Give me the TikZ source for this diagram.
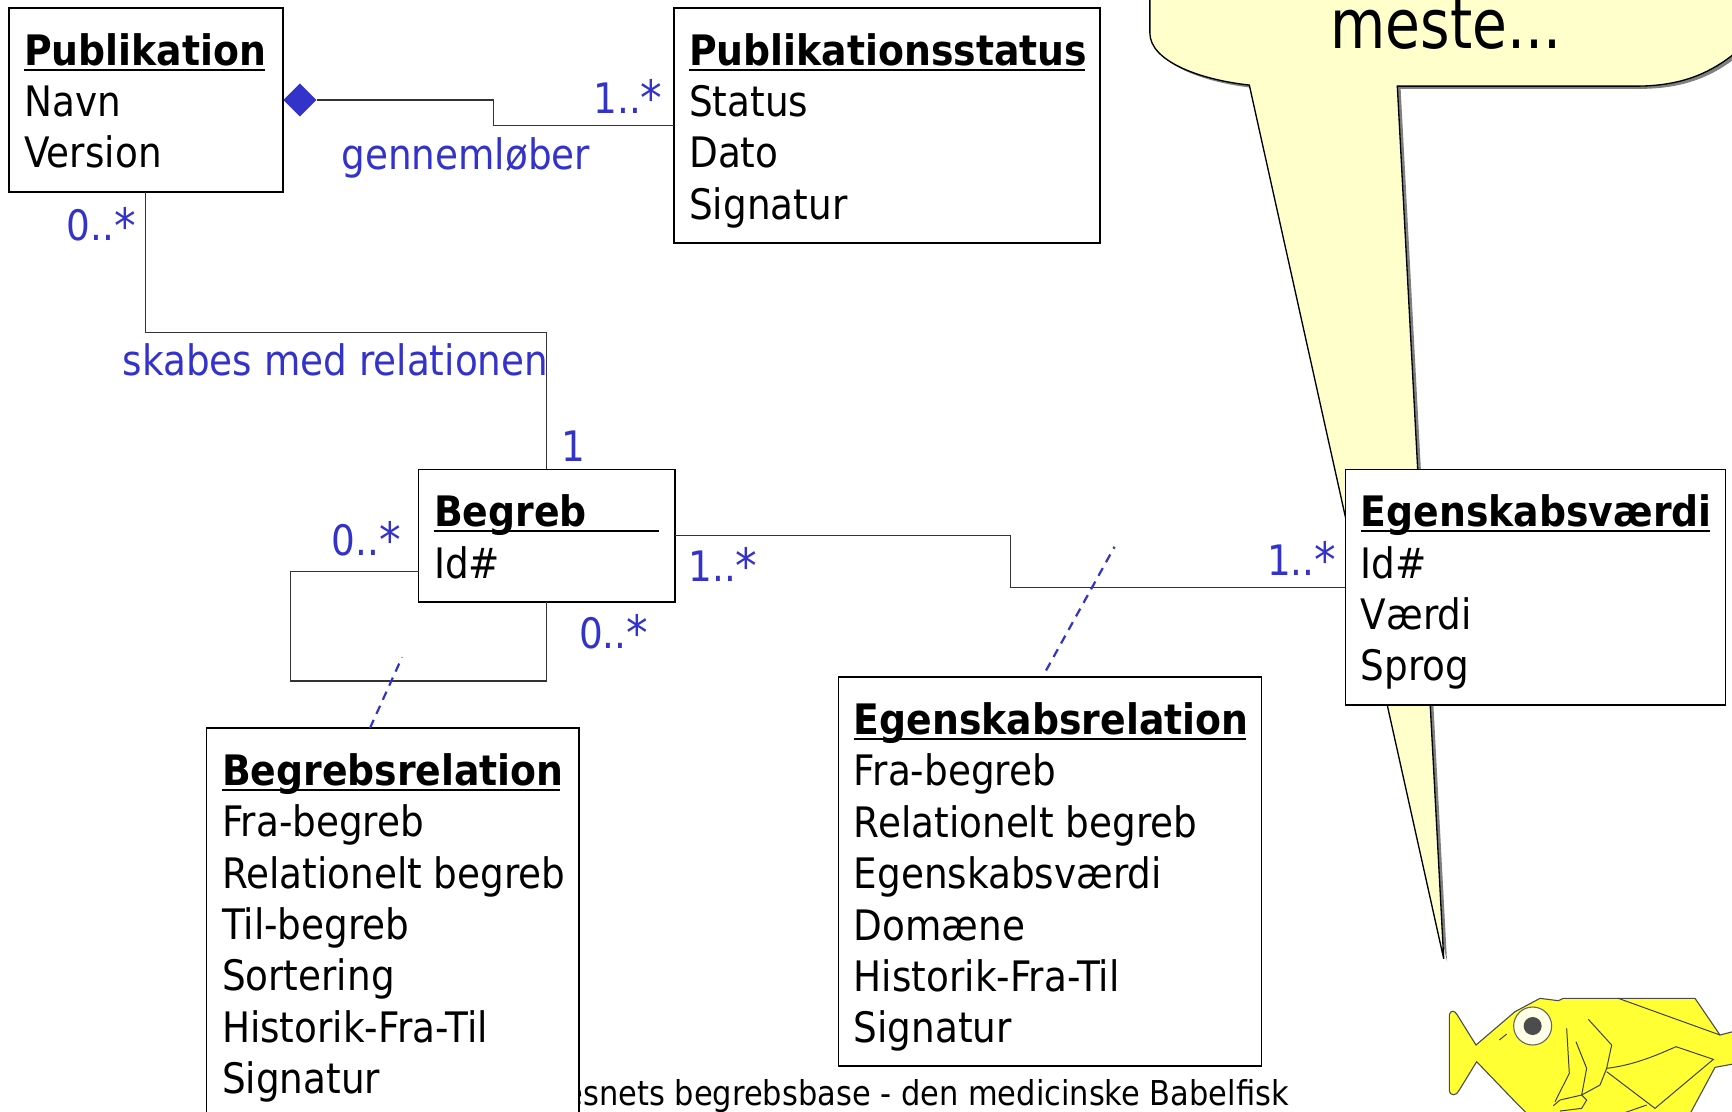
\documentclass[tikz,border=0pt]{standalone}
\usepackage{fontspec}
\setmainfont{DejaVu Sans}[FakeStretch=0.89,BoldFeatures={FakeStretch=0.9}]
\usetikzlibrary{shapes.geometric}
\definecolor{umlblue}{HTML}{3333CC}
\definecolor{noteyellow}{HTML}{FFFFCC}
\definecolor{fishyellow}{HTML}{FFFF33}
\tikzset{
  umlbox/.style={draw=black,line width=1.5pt,fill=white,inner sep=0pt,outer sep=0pt,rectangle},
  assoc/.style={draw=black!80,line width=1pt},
  link/.style={draw=umlblue,line width=2pt,dash pattern=on 8pt off 6pt},
  role/.style={text=umlblue,anchor=base west,inner sep=0pt,font=\fontsize{38}{46.4}\selectfont},
  fishline/.style={draw=black!75,line width=0.9pt}
}
% box body: width, height, title rule width, title, attribute lines
\newcommand\umlbody[5]{%
  \parbox[c][#2pt][t]{#1pt}{\fontsize{38}{46.5}\selectfont\setlength{\parindent}{0pt}%
  \hspace*{14pt}\rule{0pt}{52pt}\rlap{\rule[-5pt]{#3pt}{1.8pt}}\textbf{#4}#5}}
\newcommand\attr[1]{\par\hspace*{14pt}#1}
% multiplicity star, a little larger than the font's own
\newcommand\mstar{\raisebox{-2pt}{\fontsize{44}{46}\selectfont *}}
\begin{document}
\begin{tikzpicture}[x=1pt,y=-1pt]
\clip (0,0) rectangle (1568,1006);
\useasboundingbox (0,0) rectangle (1568,1006);

% speech bubble with its shadow
\def\bubble{(1041,-20) -- (1041,30) .. controls (1041,55) and (1085,72) .. (1131,77)
  -- (1307,868) -- (1265,78) -- (1480,78) .. controls (1520,78) and (1550,68) .. (1580,40) -- (1580,-20) -- cycle}
\fill[gray,shift={(3,2.5)}] \bubble;
\draw[fill=noteyellow,draw=black,line width=1.2pt] \bubble;
\node[inner sep=0pt,anchor=base,font=\fontsize{62}{70}\selectfont] (note) at (1309,44) {\scalebox{0.93}[1]{meste...}};

% footer, its start covered by the Begrebsrelation box
\node[inner sep=0pt,anchor=base east,font=\fontsize{31}{36}\selectfont] (footer) at (1167,1001) {esnets begrebsbase - den medicinske Babelfisk};

% classes
\node[umlbox,anchor=north west] (pub) at (8,7) {\umlbody{248}{167}{218}{Publikation}{\attr{Navn}\attr{Version}}};
\node[umlbox,anchor=north west] (pubstat) at (610,7) {\umlbody{386}{213}{358}{Publikationsstatus}{\attr{Status}\attr{Dato}\attr{Signatur}}};
\node[umlbox,anchor=north west] (begreb) at (379,425) {\umlbody{232}{120}{204}{Begreb}{\attr{Id\#}}};
\node[umlbox,anchor=north west] (egv) at (1218,425) {\umlbody{344}{213}{316}{Egenskabsværdi}{\attr{Id\#}\attr{Værdi}\attr{Sprog}}};
\node[umlbox,anchor=north west] (brel) at (187,659) {\umlbody{337}{380}{306}{Begrebsrelation}{\attr{Fra-begreb}\attr{Relationelt begreb}\attr{Til-begreb}\attr{Sortering}\attr{Historik-Fra-Til}\attr{Signatur}}};
\node[umlbox,anchor=north west] (erel) at (759,613) {\umlbody{383}{352}{355}{Egenskabsrelation}{\attr{Fra-begreb}\attr{Relationelt begreb}\attr{Egenskabsværdi}\attr{Domæne}\attr{Historik-Fra-Til}\attr{Signatur}}};

% composition diamond
\node[diamond,fill=umlblue,inner sep=0pt,minimum width=30pt,minimum height=30pt] (comp) at (271.5,90.5) {};

% associations
\draw[assoc] (comp.east) -- ++(160,0) |- (pubstat.west);
\draw[assoc] (pub.south) -- ++(0,127) -| (begreb.north);
\draw[assoc] (begreb.east) -- ++(304,0) |- (egv.west);
\coordinate (selfin) at (379,517);
\coordinate (selfbend) at (263,616.5);
\draw[assoc] (selfin) -| (selfbend) -| (begreb.south);

% dashed links from association classes
\coordinate (egfree) at (1009,495);
\coordinate (egend) at (947,607);
\coordinate (brfree) at (364,595);
\coordinate (brend) at (335,659);
\draw[link] (egend) -- (egfree);
\draw[link] (brend) -- (brfree);

% role labels
\node[role] (r1) at (309,153) {gennemløber};
\node[role] (r2) at (537,103) {1..\mstar};
\node[role] (r3) at (60,218) {0..\mstar};
\node[role] (r4) at (111,340) {skabes med relationen};
\node[role] (r5) at (508,418) {1};
\node[role] (r6) at (300,503) {0..\mstar};
\node[role] (r7) at (623,526) {1..\mstar};
\node[role] (r8) at (524,587) {0..\mstar};
\node[role] (r9) at (1147,521) {1..\mstar};

% fish
\begin{scope}[shift={(1267.4,869.1)},x=0.3018pt,y=-0.3018pt]
  \draw[fill=fishyellow,draw=black!70,line width=1pt]
    (148,165) .. controls (150,150) and (165,150) .. (172,165) -- (228,255) -- (345,155)
    -- (420,115) -- (475,122) -- (490,115) -- (885,115) -- (960,225) -- (1010,212) -- (1010,310)
    -- (945,322) -- (860,480) -- (400,480) -- (355,435) -- (230,305) -- (178,390)
    .. controls (170,408) and (150,410) .. (148,390) -- cycle;
  \draw[fill=white!90!yellow,draw=black!60,line width=1pt] (398,198) circle (57);
  \fill[black!70] (398,198) circle (27);
  \draw[fishline] (298,240) -- (320,222);
  \draw[fishline] (655,115) -- (960,225);
  \draw[fishline] (565,178) -- (635,255) -- (620,325) -- (600,375) -- (545,405);
  \draw[fishline] (500,205) -- (508,340) -- (465,425);
  \draw[fishline] (528,245) -- (560,325) -- (545,405);
  \draw[fishline] (620,325) .. controls (700,315) and (760,290) .. (828,260) -- (940,298) -- (765,445) -- (620,335);
  \draw[fishline] (460,437) -- (480,420) -- (545,405) -- (560,420) -- (545,445) -- (480,453);
  \draw[fishline] (740,435) -- (640,470);
\end{scope}
\end{tikzpicture}
\end{document}
